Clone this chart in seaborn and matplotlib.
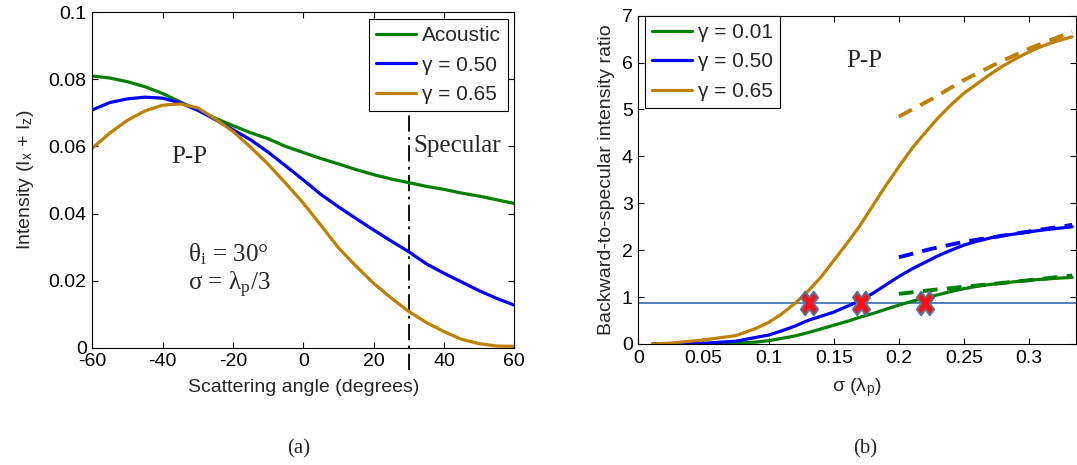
import matplotlib
matplotlib.use("Agg")
import matplotlib.pyplot as plt
import seaborn as sns
import pandas as pd
from matplotlib.lines import Line2D
from matplotlib.markers import MarkerStyle
from matplotlib.transforms import Affine2D

# ---------------- data: panel (a) ----------------
angle = [-60, -55, -50, -45, -40, -35, -30, -25, -20, -15, -10, -5, 0,
         5, 10, 15, 20, 25, 30, 35, 40, 45, 50, 55, 60]
acoustic = [0.0810, 0.0804, 0.0793, 0.0778, 0.0758, 0.0733, 0.0708, 0.0684, 0.0662,
            0.0641, 0.0623, 0.0600, 0.0582, 0.0564, 0.0548, 0.0531, 0.0516, 0.0503,
            0.0492, 0.0481, 0.0472, 0.0461, 0.0452, 0.0441, 0.0430]
gamma_050 = [0.0709, 0.0731, 0.0742, 0.0747, 0.0744, 0.0730, 0.0708, 0.0680, 0.0650,
             0.0620, 0.0583, 0.0542, 0.0500, 0.0457, 0.0420, 0.0385, 0.0351, 0.0318,
             0.0286, 0.0250, 0.0222, 0.0196, 0.0170, 0.0147, 0.0127]
gamma_065 = [0.0595, 0.0640, 0.0678, 0.0706, 0.0723, 0.0727, 0.0715, 0.0682, 0.0645,
             0.0598, 0.0547, 0.0490, 0.0431, 0.0365, 0.0298, 0.0243, 0.0192, 0.0148,
             0.0108, 0.0075, 0.0048, 0.0025, 0.0012, 0.0005, 0.0004]
specular_angle = 30
labels_a = ["Acoustic", "γ = 0.50", "γ = 0.65"]

# ---------------- data: panel (b) ----------------
sigma = [0.011, 0.025, 0.05, 0.075, 0.09, 0.10, 0.11, 0.12, 0.13, 0.14, 0.15, 0.16,
         0.17, 0.18, 0.19, 0.20, 0.21, 0.22, 0.23, 0.24, 0.25, 0.26, 0.27, 0.28,
         0.29, 0.30, 0.31, 0.32, 0.333]
ratio_001 = [0, 0, 0.005, 0.02, 0.04, 0.07, 0.12, 0.17, 0.24, 0.32, 0.40, 0.48, 0.57,
             0.65, 0.74, 0.83, 0.91, 0.98, 1.05, 1.12, 1.18, 1.23, 1.27, 1.30, 1.33,
             1.36, 1.38, 1.40, 1.42]
ratio_050 = [0, 0.003, 0.015, 0.06, 0.14, 0.19, 0.28, 0.38, 0.50, 0.59, 0.68, 0.80,
             0.92, 1.08, 1.26, 1.44, 1.60, 1.74, 1.88, 2.00, 2.11, 2.19, 2.26, 2.31,
             2.35, 2.39, 2.43, 2.46, 2.50]
ratio_065 = [0, 0.02, 0.085, 0.18, 0.33, 0.46, 0.64, 0.86, 1.12, 1.42, 1.78, 2.14,
             2.52, 2.95, 3.38, 3.78, 4.17, 4.50, 4.82, 5.10, 5.35, 5.55, 5.75, 5.93,
             6.09, 6.23, 6.35, 6.45, 6.55]
sigma_fit = [0.20, 0.225, 0.25, 0.275, 0.30, 0.333]
fit_001 = [1.07, 1.15, 1.22, 1.29, 1.36, 1.46]
fit_050 = [1.85, 2.03, 2.18, 2.29, 2.40, 2.54]
fit_065 = [4.85, 5.22, 5.63, 5.98, 6.30, 6.66]
cross_sigma = [0.131, 0.171, 0.220]
cross_ratio = [0.88, 0.88, 0.88]
threshold = 0.88
labels_b = ["γ = 0.01", "γ = 0.50", "γ = 0.65"]

GREEN, BLUE, ORANGE = "#008000", "#0000ff", "#bf8000"

# ---------------- style ----------------
sns.set_theme(style="white")
plt.rcParams.update({
    "font.family": ["Liberation Sans", "DejaVu Sans"],
    "mathtext.fontset": "stix",
    "axes.edgecolor": "black",
    "axes.linewidth": 0.8,
    "xtick.color": "black",
    "ytick.color": "black",
    "legend.fancybox": False,
})

W, H = 1077, 465
fig = plt.figure(figsize=(W / 100, H / 100), dpi=100)

def px_axes(l, t, r, b):
    return fig.add_axes([l / W, 1 - b / H, (r - l) / W, (b - t) / H])

def ftext(x, y, s, **kw):
    # x, y in pixels from the top-left corner of the figure
    return fig.text(x / W, 1 - y / H, s, **kw)

axA = px_axes(92.3, 12.3, 514.3, 347.7)
axB = px_axes(638.3, 15.7, 1076, 344.0)

TICK_FS = 14
LAB_FS = 14
LEG_FS = 15
SERIF = ["Liberation Serif", "DejaVu Serif"]

for ax in (axA, axB):
    ax.tick_params(direction="in", top=True, right=True, length=4, width=0.8,
                   labelsize=TICK_FS, pad=4, bottom=True, left=True)
    for s in ax.spines.values():
        s.set_visible(True)
        s.set_color("black")
        s.set_linewidth(0.8)

leg_kw = dict(bbox_transform=fig.transFigure, borderaxespad=0, fontsize=LEG_FS,
              frameon=True, edgecolor="black", framealpha=1, handlelength=1.9,
              handletextpad=0.3, labelspacing=0.5, borderpad=0.35)

# ---------------- panel (a) ----------------
dfa = pd.DataFrame({"angle": angle * 3,
                    "I": acoustic + gamma_050 + gamma_065,
                    "series": [labels_a[0]] * len(angle) + [labels_a[1]] * len(angle)
                              + [labels_a[2]] * len(angle)})
sns.lineplot(data=dfa, x="angle", y="I", hue="series", hue_order=labels_a,
             palette=[GREEN, BLUE, ORANGE], linewidth=2.3, ax=axA, estimator=None)
axA.axvline(specular_angle, ymin=-0.066, ymax=0.95, color="black", lw=1.3,
            linestyle=(0, (9, 3, 1.5, 3)), clip_on=False, zorder=1)
axA.set_xlim(-60, 60)
axA.set_ylim(0, 0.1)
axA.set_xticks([-60, -40, -20, 0, 20, 40, 60])
axA.set_xticklabels(["-60", "-40", "-20", "0", "20", "40", "60"])
axA.set_yticks([0, 0.02, 0.04, 0.06, 0.08, 0.1])
axA.set_yticklabels(["0", "0.02", "0.04", "0.06", "0.08", "0.1"])
axA.set_xlabel("Scattering angle (degrees)", fontsize=LAB_FS, labelpad=6)
axA.set_ylabel(r"Intensity (I$_\mathregular{x}$ + I$_\mathregular{z}$)", fontsize=LAB_FS,
               labelpad=9)
hA = [Line2D([], [], color=c, lw=2.3) for c in (GREEN, BLUE, ORANGE)]
axA.legend(hA, labels_a, loc="upper right", bbox_to_anchor=(508 / W, 1 - 19 / H),
           **leg_kw).get_frame().set_linewidth(0.8)
ftext(189, 157, "P-P", fontsize=18, family=SERIF, ha="center", va="center")
ftext(413, 152, "Specular", fontsize=18, family=SERIF, ha="left", va="baseline")
ftext(188, 262, r"θ$_\mathregular{i}$ = 30°", fontsize=18, family=SERIF,
      ha="left", va="baseline")
ftext(188, 290, r"σ = λ$_\mathregular{p}$/3", fontsize=18, family=SERIF,
      ha="left", va="baseline")

# ---------------- panel (b) ----------------
n = len(sigma)
dfb = pd.DataFrame({"sigma": sigma * 3,
                    "ratio": ratio_001 + ratio_050 + ratio_065,
                    "series": [labels_b[0]] * n + [labels_b[1]] * n + [labels_b[2]] * n})
m = len(sigma_fit)
dff = pd.DataFrame({"sigma": sigma_fit * 3,
                    "ratio": fit_001 + fit_050 + fit_065,
                    "series": [labels_b[0]] * m + [labels_b[1]] * m + [labels_b[2]] * m})
axB.axhline(threshold, color="#4f81bd", lw=1.4, zorder=1)
sns.lineplot(data=dfb, x="sigma", y="ratio", hue="series", hue_order=labels_b,
             palette=[GREEN, BLUE, ORANGE], linewidth=2.3, ax=axB, estimator=None,
             legend=False, zorder=2)
sns.lineplot(data=dff, x="sigma", y="ratio", hue="series", hue_order=labels_b,
             palette=[GREEN, BLUE, ORANGE], linewidth=2.8, ax=axB, estimator=None,
             legend=False, zorder=2)
for ln in axB.get_lines()[-3:]:
    ln.set_linestyle((0, (3.8, 2.4)))
xm = MarkerStyle("X", transform=Affine2D().scale(0.8, 1.1))
sns.scatterplot(x=cross_sigma, y=cross_ratio, marker=xm, s=240, color="#ff1010",
                edgecolor="#52739c", linewidth=1.4, ax=axB, zorder=5, legend=False)
axB.set_xlim(0, (1076 - 638.3) / 1303)
axB.set_ylim(0, 7)
axB.set_xticks([0, 0.05, 0.1, 0.15, 0.2, 0.25, 0.3])
axB.set_xticklabels(["0", "0.05", "0.1", "0.15", "0.2", "0.25", "0.3"])
axB.set_yticks(range(0, 8))
axB.set_xlabel(r"σ (λ$_\mathregular{p}$)", fontsize=LAB_FS, labelpad=7)
axB.set_ylabel("Backward-to-specular intensity ratio", fontsize=LAB_FS, labelpad=5)
hB = [Line2D([], [], color=c, lw=2.3) for c in (GREEN, BLUE, ORANGE)]
axB.legend(hB, labels_b, loc="upper left", bbox_to_anchor=(645 / W, 1 - 15.7 / H),
           **leg_kw).get_frame().set_linewidth(0.8)
ftext(864, 61, "P-P", fontsize=18, family=SERIF, ha="center", va="center")

# ---------------- captions ----------------
ftext(299, 449, "(a)", fontsize=15, family=SERIF, ha="center", va="center")
ftext(865, 449, "(b)", fontsize=15, family=SERIF, ha="center", va="center")

fig.savefig("out.png", dpi=100)
